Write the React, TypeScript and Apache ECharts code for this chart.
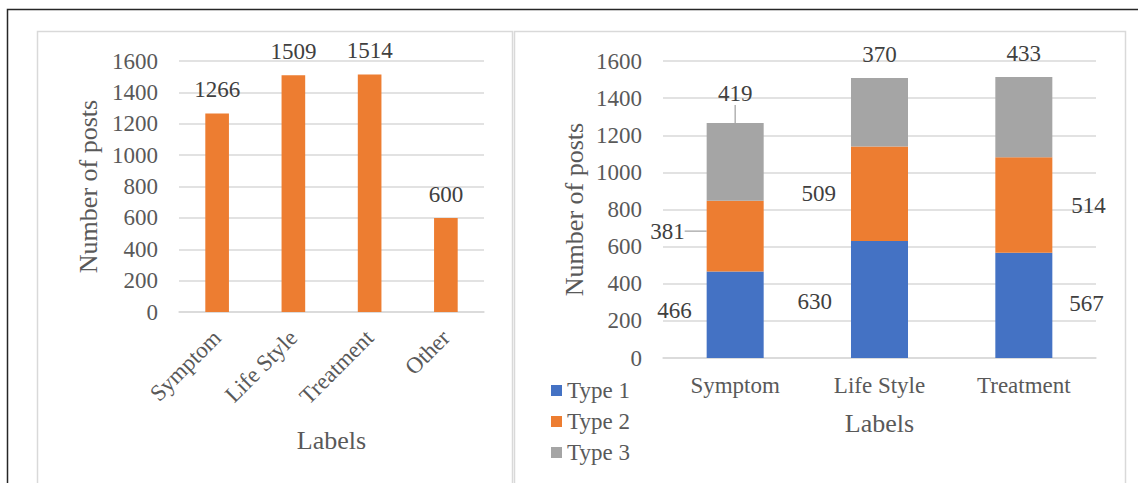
import React, { useEffect, useRef } from 'react';
import * as echarts from 'echarts';

const FONT = 'Liberation Serif';
const TEXT = '#595959';
const GRID = '#d9d9d9';

// Left chart data
const categoriesAll = ['Symptom', 'Life Style', 'Treatment', 'Other'];
const totalPosts = [1266, 1509, 1514, 600];

// Right chart data
const categoriesStacked = ['Symptom', 'Life Style', 'Treatment'];
const seriesNames = ['Type 1', 'Type 2', 'Type 3'];
const type1 = [466, 630, 567];
const type2 = [381, 509, 514];
const type3 = [419, 370, 433];

// Axis
const yMin = 0;
const yMax = 1600;
const yInterval = 200;

const COLORS = ['#4472C4', '#ED7D31', '#A5A5A5'];

const leader = { show: true, length2: 0, lineStyle: { color: '#a6a6a6', width: 1.3 } };
const noLeader = { show: false };

const t1Labels = [
  { position: 'left', distance: 15, offset: [0, -4] },
  { position: 'left', distance: 19, offset: [0, 2] },
  { position: 'right', distance: 17, offset: [0, -2] },
];
const t2Labels = [
  { position: 'left', distance: 23, offset: [0, -5] },
  { position: 'left', distance: 15, offset: [0, 0] },
  { position: 'right', distance: 19, offset: [0, -3] },
];
const t3Labels = [
  { position: 'top', distance: 18, offset: [0, 0] },
  { position: 'top', distance: 12, offset: [0, 0] },
  { position: 'top', distance: 12, offset: [0, 0] },
];
const t2Lines = [leader, noLeader, noLeader];
const t3Lines = [leader, noLeader, noLeader];

export default function App() {
  const ref = useRef<HTMLDivElement>(null);

  useEffect(() => {
    if (!ref.current) return;
    const chart = echarts.init(ref.current, null, { renderer: 'svg' });

    const baseLabel = { show: true, color: '#404040', fontFamily: FONT, fontSize: 23 };

    const yAxisCommon = (gridIndex: number, gap: number) => ({
      type: 'value',
      gridIndex,
      min: yMin,
      max: yMax,
      interval: yInterval,
      name: 'Number of posts',
      nameLocation: 'middle',
      nameGap: gap,
      nameRotate: 90,
      nameTextStyle: { color: TEXT, fontFamily: FONT, fontSize: 26 },
      axisLine: { show: false },
      axisTick: { show: false },
      axisLabel: {
        color: TEXT,
        fontFamily: FONT,
        fontSize: 23,
        margin: 21,
        formatter: (v: number) => String(v),
      },
      splitLine: { lineStyle: { color: GRID, width: 1.5 } },
    });

    const mkItems = (vals: number[], labels: any[], lines?: any[]) =>
      vals.map((v, i) => ({
        value: v,
        label: { ...labels[i] },
        ...(lines ? { labelLine: lines[i] } : {}),
      }));

    chart.setOption({
      animation: false,
      backgroundColor: '#ffffff',
      textStyle: { fontFamily: FONT },
      graphic: [
        {
          type: 'rect',
          shape: { x: 7.5, y: 9.5, width: 1300, height: 600 },
          style: { fill: 'none', stroke: '#262626', lineWidth: 1.5 },
          z: 100,
        },
        {
          type: 'rect',
          shape: { x: 37.5, y: 31.5, width: 475, height: 600 },
          style: { fill: 'none', stroke: GRID, lineWidth: 1.5 },
        },
        {
          type: 'rect',
          shape: { x: 514.5, y: 31.5, width: 611, height: 600 },
          style: { fill: 'none', stroke: GRID, lineWidth: 1.5 },
        },
      ],
      legend: {
        data: seriesNames,
        orient: 'vertical',
        left: 546,
        top: 374,
        icon: 'rect',
        itemWidth: 11,
        itemHeight: 11,
        itemGap: 8,
        textStyle: { color: TEXT, fontFamily: FONT, fontSize: 23, lineHeight: 23 },
      },
      grid: [
        { left: 179, right: 654, top: 61, bottom: 171 },
        { left: 663, right: 42, top: 61, bottom: 125 },
      ],
      xAxis: [
        {
          type: 'category',
          gridIndex: 0,
          data: categoriesAll,
          name: 'Labels',
          nameLocation: 'middle',
          nameGap: 115,
          nameTextStyle: { color: TEXT, fontFamily: FONT, fontSize: 26 },
          axisLine: { lineStyle: { color: GRID, width: 1.5 } },
          axisTick: { show: false },
          axisLabel: { color: TEXT, fontFamily: FONT, fontSize: 23, rotate: 45, margin: 22, interval: 0 },
        },
        {
          type: 'category',
          gridIndex: 1,
          data: categoriesStacked,
          name: 'Labels',
          nameLocation: 'middle',
          nameGap: 52,
          nameTextStyle: { color: TEXT, fontFamily: FONT, fontSize: 26 },
          axisLine: { lineStyle: { color: GRID, width: 1.5 } },
          axisTick: { show: false },
          axisLabel: { color: TEXT, fontFamily: FONT, fontSize: 23, margin: 16, interval: 0 },
        },
      ],
      yAxis: [yAxisCommon(0, 78), yAxisCommon(1, 76)],
      series: [
        {
          type: 'bar',
          name: 'Total',
          xAxisIndex: 0,
          yAxisIndex: 0,
          data: totalPosts,
          barCategoryGap: '69%',
          itemStyle: { color: COLORS[1] },
          label: { ...baseLabel, position: 'top', distance: 12 },
        },
        {
          type: 'bar',
          name: seriesNames[0],
          xAxisIndex: 1,
          yAxisIndex: 1,
          stack: 'types',
          barCategoryGap: '60.5%',
          itemStyle: { color: COLORS[0] },
          label: baseLabel,
          data: mkItems(type1, t1Labels),
        },
        {
          type: 'bar',
          name: seriesNames[1],
          xAxisIndex: 1,
          yAxisIndex: 1,
          stack: 'types',
          barCategoryGap: '60.5%',
          itemStyle: { color: COLORS[1] },
          label: baseLabel,
          labelLine: { show: false },
          labelLayout: (p: any) =>
            p.dataIndex === 0
              ? {
                  x: p.rect.x - 22,
                  y: p.rect.y + p.rect.height / 2 - 5,
                  align: 'right',
                  verticalAlign: 'middle',
                }
              : {},
          data: mkItems(type2, t2Labels, t2Lines),
        },
        {
          type: 'bar',
          name: seriesNames[2],
          xAxisIndex: 1,
          yAxisIndex: 1,
          stack: 'types',
          barCategoryGap: '60.5%',
          itemStyle: { color: COLORS[2] },
          label: baseLabel,
          labelLine: { show: false },
          labelLayout: (p: any) =>
            p.dataIndex === 0
              ? {
                  x: p.rect.x + p.rect.width / 2,
                  y: p.rect.y - 18,
                  align: 'center',
                  verticalAlign: 'bottom',
                }
              : {},
          data: mkItems(type3, t3Labels, t3Lines),
        },
      ],
    });

    return () => chart.dispose();
  }, []);

  return (
    <div
      ref={ref}
      style={{ position: 'absolute', left: 0, top: 0, width: 1138, height: 483 }}
    />
  );
}
